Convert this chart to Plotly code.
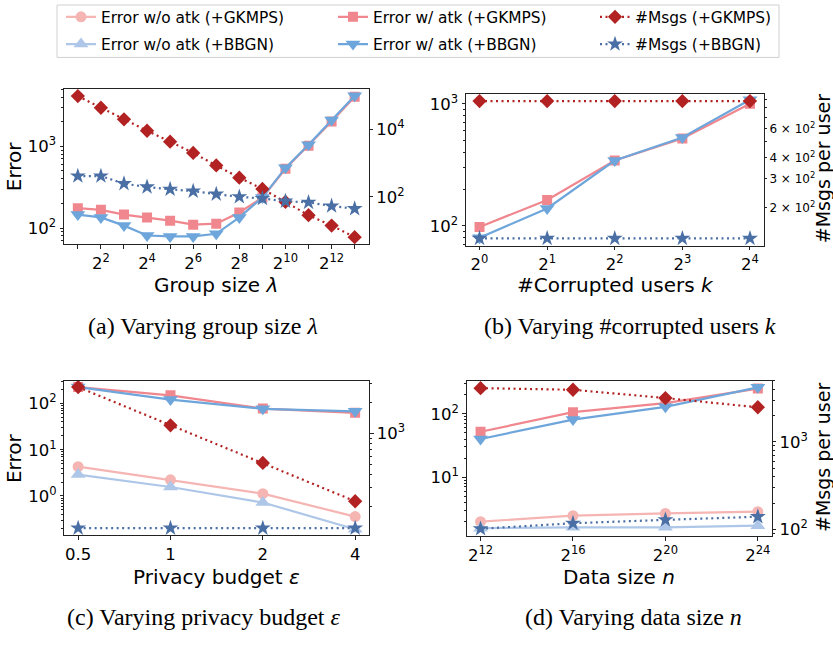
import math
import plotly.graph_objects as go

# ---------------- data ----------------
lam = [2, 4, 8, 16, 32, 64, 128, 256, 512, 1024, 2048, 4096, 8192]
lam_labeled = [4, 16, 64, 256, 1024, 4096]
lam_labels = ["2<sup>2</sup>", "2<sup>4</sup>", "2<sup>6</sup>", "2<sup>8</sup>", "2<sup>10</sup>", "2<sup>12</sup>"]
a_err_atk_gk = [175, 167, 146, 135, 123, 110, 113, 155, 236, 531, 1020, 2010, 4050]
a_err_atk_bb = [146, 135, 107, 81, 79, 79, 85, 135, 236, 545, 1045, 2100, 4160]
a_msgs_gk = [95000, 43000, 19600, 9000, 4300, 2000, 850, 370, 173, 72, 29, 14.3, 6.5]
a_msgs_bb = [414, 414, 247, 197, 169, 148, 121, 101, 90, 75, 69, 54, 45]

k_vals = [1, 2, 4, 8, 16]
k_labels = ["2<sup>0</sup>", "2<sup>1</sup>", "2<sup>2</sup>", "2<sup>3</sup>", "2<sup>4</sup>"]
b_err_atk_gk = [98, 163, 343, 520, 1000]
b_err_atk_bb = [80, 139, 343, 530, 1080]
b_msgs_gk = [880, 880, 880, 880, 880]
b_msgs_bb = [130, 130, 130, 130, 130]
b_right_ticks = [200, 300, 400, 600]
b_right_labels = ["2 × 10<sup>2</sup>", "3 × 10<sup>2</sup>", "4 × 10<sup>2</sup>", "6 × 10<sup>2</sup>"]

eps = [0.5, 1, 2, 4]
eps_labels = ["0.5", "1", "2", "4"]
c_err_wo_gk = [4.3, 2.23, 1.12, 0.356]
c_err_wo_bb = [2.9, 1.56, 0.72, 0.19]
c_err_atk_gk = [228, 151, 78, 63]
c_err_atk_bb = [228, 122, 77, 68]
c_msgs_gk = [2800, 1200, 521, 223]
c_msgs_bb = [123, 123, 123, 123]

n_vals = [4096, 65536, 1048576, 16777216]
n_labels = ["2<sup>12</sup>", "2<sup>16</sup>", "2<sup>20</sup>", "2<sup>24</sup>"]
d_err_wo_gk = [1.98, 2.46, 2.67, 2.84]
d_err_wo_bb = [1.56, 1.61, 1.61, 1.71]
d_err_atk_gk = [52, 106, 148, 250]
d_err_atk_bb = [40, 81, 129, 262]
d_msgs_gk = [4100, 3930, 3160, 2480]
d_msgs_bb = [102, 118, 129, 140]

names = ["Error w/o atk (+GKMPS)", "Error w/o atk (+BBGN)", "Error w/ atk (+GKMPS)",
         "Error w/ atk (+BBGN)", "#Msgs (+GKMPS)", "#Msgs (+BBGN)"]

# ---------------- styles ----------------
W, H = 833, 646
FONT = "DejaVu Sans"
SERIF = "Liberation Serif"
STY = {
    "wo_gk": dict(color="#f5b5b3", symbol="circle", size=11, dash="solid", name=names[0], legend="legend"),
    "wo_bb": dict(color="#aec7e8", symbol="triangle-up", size=13, dash="solid", name=names[1], legend="legend2"),
    "atk_gk": dict(color="#f0878e", symbol="square", size=10, dash="solid", name=names[2], legend="legend3"),
    "atk_bb": dict(color="#6ea6dc", symbol="triangle-down", size=13, dash="solid", name=names[3], legend="legend4"),
    "msg_gk": dict(color="#b22222", symbol="diamond", size=11, dash="2px,3.5px", name=names[4], legend="legend5"),
    "msg_bb": dict(color="#4a6fa5", symbol="star", size=12, dash="2px,3.5px", name=names[5], legend="legend6"),
}

fig = go.Figure()


def add(key, x, y, xa, ya, show=False):
    s = STY[key]
    fig.add_trace(go.Scatter(
        x=x, y=y, xaxis=xa, yaxis=ya, mode="lines+markers", name=s["name"],
        line=dict(color=s["color"], width=2.2, dash=s["dash"]),
        marker=dict(symbol=s["symbol"], size=s["size"], color=s["color"], line=dict(width=0)),
        legend=s["legend"], showlegend=show))


# panel a
add("atk_gk", lam, a_err_atk_gk, "x", "y")
add("atk_bb", lam, a_err_atk_bb, "x", "y")
add("msg_gk", lam, a_msgs_gk, "x", "y2")
add("msg_bb", lam, a_msgs_bb, "x", "y2")
# panel b
add("atk_gk", k_vals, b_err_atk_gk, "x2", "y3")
add("atk_bb", k_vals, b_err_atk_bb, "x2", "y3")
add("msg_gk", k_vals, b_msgs_gk, "x2", "y4")
add("msg_bb", k_vals, b_msgs_bb, "x2", "y4")
# panel c (legend source)
add("wo_gk", eps, c_err_wo_gk, "x3", "y5", True)
add("wo_bb", eps, c_err_wo_bb, "x3", "y5", True)
add("atk_gk", eps, c_err_atk_gk, "x3", "y5", True)
add("atk_bb", eps, c_err_atk_bb, "x3", "y5", True)
add("msg_gk", eps, c_msgs_gk, "x3", "y6", True)
add("msg_bb", eps, c_msgs_bb, "x3", "y6", True)
# panel d
add("wo_gk", n_vals, d_err_wo_gk, "x4", "y7")
add("wo_bb", n_vals, d_err_wo_bb, "x4", "y7")
add("atk_gk", n_vals, d_err_atk_gk, "x4", "y7")
add("atk_bb", n_vals, d_err_atk_bb, "x4", "y7")
add("msg_gk", n_vals, d_msgs_gk, "x4", "y8")
add("msg_bb", n_vals, d_msgs_bb, "x4", "y8")

# ---------------- axes ----------------
L2 = math.log10(2)
TICK = 16.5


def px_x(a, b):
    return [a / W, b / W]


def px_y(top, bot):
    return [1 - bot / H, 1 - top / H]


def sup(base, e):
    return f"{base}<sup>{e}</sup>"


def minors(lo_e, hi_e):
    return [m * 10 ** e for e in range(lo_e, hi_e + 1) for m in range(2, 10)]


def base_axis(**kw):
    d = dict(type="log", showgrid=False, zeroline=False, showline=True, linecolor="#222",
             linewidth=1, ticks="outside", ticklen=3.5, tickwidth=1, tickcolor="#222",
             tickfont=dict(family=FONT, size=TICK, color="black"), tickmode="array")
    d.update(kw)
    return d


def minor_cfg(vals, ln=2.2, w=0.8):
    return dict(tickvals=vals, ticks="outside", ticklen=ln, tickwidth=w, tickcolor="#222", showgrid=False)


A_X, A_Y = px_x(64, 368.5), px_y(85.5, 243)
B_X, B_Y = px_x(466, 763.5), px_y(90.7, 244.3)
C_X, C_Y = px_x(64.3, 369), px_y(380.7, 537.3)
D_X, D_Y = px_x(466.7, 771.7), px_y(380.7, 538.3)

lam_unlabeled = [v for v in lam if v not in lam_labeled]
layout_axes = dict(
    xaxis=base_axis(domain=A_X, anchor="y", mirror=True, range=[0.4 * L2, 13.6 * L2],
                    tickvals=lam_labeled, ticktext=lam_labels,
                    minor=minor_cfg(lam_unlabeled, 3.5, 1)),
    yaxis=base_axis(domain=A_Y, anchor="x", mirror=True, range=[1.80, 3.707],
                    tickvals=[100, 1000], ticktext=[sup(10, 2), sup(10, 3)],
                    minor=minor_cfg(minors(1, 3))),
    yaxis2=base_axis(overlaying="y", side="right", anchor="x", range=[0.6, 5.2],
                     tickvals=[100, 10000], ticktext=[sup(10, 2), sup(10, 4)]),
    xaxis2=base_axis(domain=B_X, anchor="y3", mirror=True, range=[-0.2 * L2, 4.2 * L2],
                     tickvals=k_vals, ticktext=k_labels),
    yaxis3=base_axis(domain=B_Y, anchor="x2", mirror=True, range=[1.838, 3.083],
                     tickvals=[100, 1000], ticktext=[sup(10, 2), sup(10, 3)],
                     minor=minor_cfg(minors(1, 2))),
    yaxis4=base_axis(overlaying="y3", side="right", anchor="x2", range=[2.07, 2.989],
                     tickvals=b_right_ticks, ticktext=b_right_labels,
                     ticklen=2.5, tickwidth=0.8, tickfont=dict(family=FONT, size=12, color="black"),
                     minor=minor_cfg([500, 700, 800, 900], 2.5, 0.8)),
    xaxis3=base_axis(domain=C_X, anchor="y5", mirror=True, range=[-1.15 * L2, 2.15 * L2],
                     tickvals=eps, ticktext=eps_labels),
    yaxis5=base_axis(domain=C_Y, anchor="x3", mirror=True, range=[-0.857, 2.499],
                     tickvals=[1, 10, 100], ticktext=[sup(10, 0), sup(10, 1), sup(10, 2)],
                     minor=minor_cfg(minors(-1, 2))),
    yaxis6=base_axis(overlaying="y5", side="right", anchor="x3", range=[2.019, 3.51],
                     tickvals=[1000], ticktext=[sup(10, 3)],
                     minor=minor_cfg(minors(2, 3))),
    xaxis4=base_axis(domain=D_X, anchor="y7", mirror=True, range=[11.4 * L2, 24.6 * L2],
                     tickvals=n_vals, ticktext=n_labels),
    yaxis7=base_axis(domain=D_Y, anchor="x4", mirror=True, range=[0.0625, 2.525],
                     tickvals=[10, 100], ticktext=[sup(10, 1), sup(10, 2)],
                     minor=minor_cfg(minors(0, 2))),
    yaxis8=base_axis(overlaying="y7", side="right", anchor="x4", range=[1.921, 3.699],
                     tickvals=[100, 1000], ticktext=[sup(10, 2), sup(10, 3)],
                     minor=minor_cfg(minors(1, 3))),
)

# ---------------- legends ----------------
legend_pos = {
    "legend": (103, 13.5), "legend2": (103, 41),
    "legend3": (375, 13.5), "legend4": (375, 41),
    "legend5": (637, 13.5), "legend6": (637, 41),
}
legends = {}
for key, (tx, ty) in legend_pos.items():
    legends[key] = dict(x=(tx - 42) / W, y=1 - ty / H, xanchor="left", yanchor="middle",
                        bgcolor="rgba(0,0,0,0)", borderwidth=0, itemwidth=30,
                        font=dict(family=FONT, size=15.4, color="black"))

# ---------------- annotations ----------------
ann = []


def text(x, y, s, size, family=FONT, angle=0):
    ann.append(dict(x=x / W, y=1 - y / H, xref="paper", yref="paper", text=s, showarrow=False,
                    font=dict(family=family, size=size, color="black"), textangle=angle,
                    xanchor="center", yanchor="middle"))


text(14, 164, "Error", 20, angle=-90)
text(14, 459, "Error", 20, angle=-90)
text(216, 284, "Group size <i>λ</i>", 20)
text(615, 284, "#Corrupted users <i>k</i>", 20)
text(216, 579, "Privacy budget <i>ε</i>", 20)
text(619, 579, "Data size <i>n</i>", 20)
text(823, 167, "#Msgs per user", 19, angle=-90)
text(823, 459, "#Msgs per user", 19, angle=-90)
text(203, 326, "(a) Varying group size <i>λ</i>", 24, SERIF)
text(630, 326, "(b) Varying #corrupted users <i>k</i>", 24, SERIF)
text(203, 620, "(c) Varying privacy budget <i>ε</i>", 24, SERIF)
text(633, 620, "(d) Varying data size <i>n</i>", 24, SERIF)

fig.update_layout(
    width=W, height=H, margin=dict(l=0, r=0, t=0, b=0),
    paper_bgcolor="white", plot_bgcolor="white",
    font=dict(family=FONT, color="black"),
    annotations=ann,
    shapes=[dict(type="rect", xref="paper", yref="paper", x0=57 / W, x1=779 / W,
                 y0=1 - 54 / H, y1=1 - 1 / H, line=dict(color="#d0d0d0", width=1),
                 fillcolor="rgba(0,0,0,0)")],
    **layout_axes, **legends,
)

fig.write_html("out.html", config={"displayModeBar": False},
               post_script="document.body.style.margin='0px';document.body.style.overflow='hidden';")
